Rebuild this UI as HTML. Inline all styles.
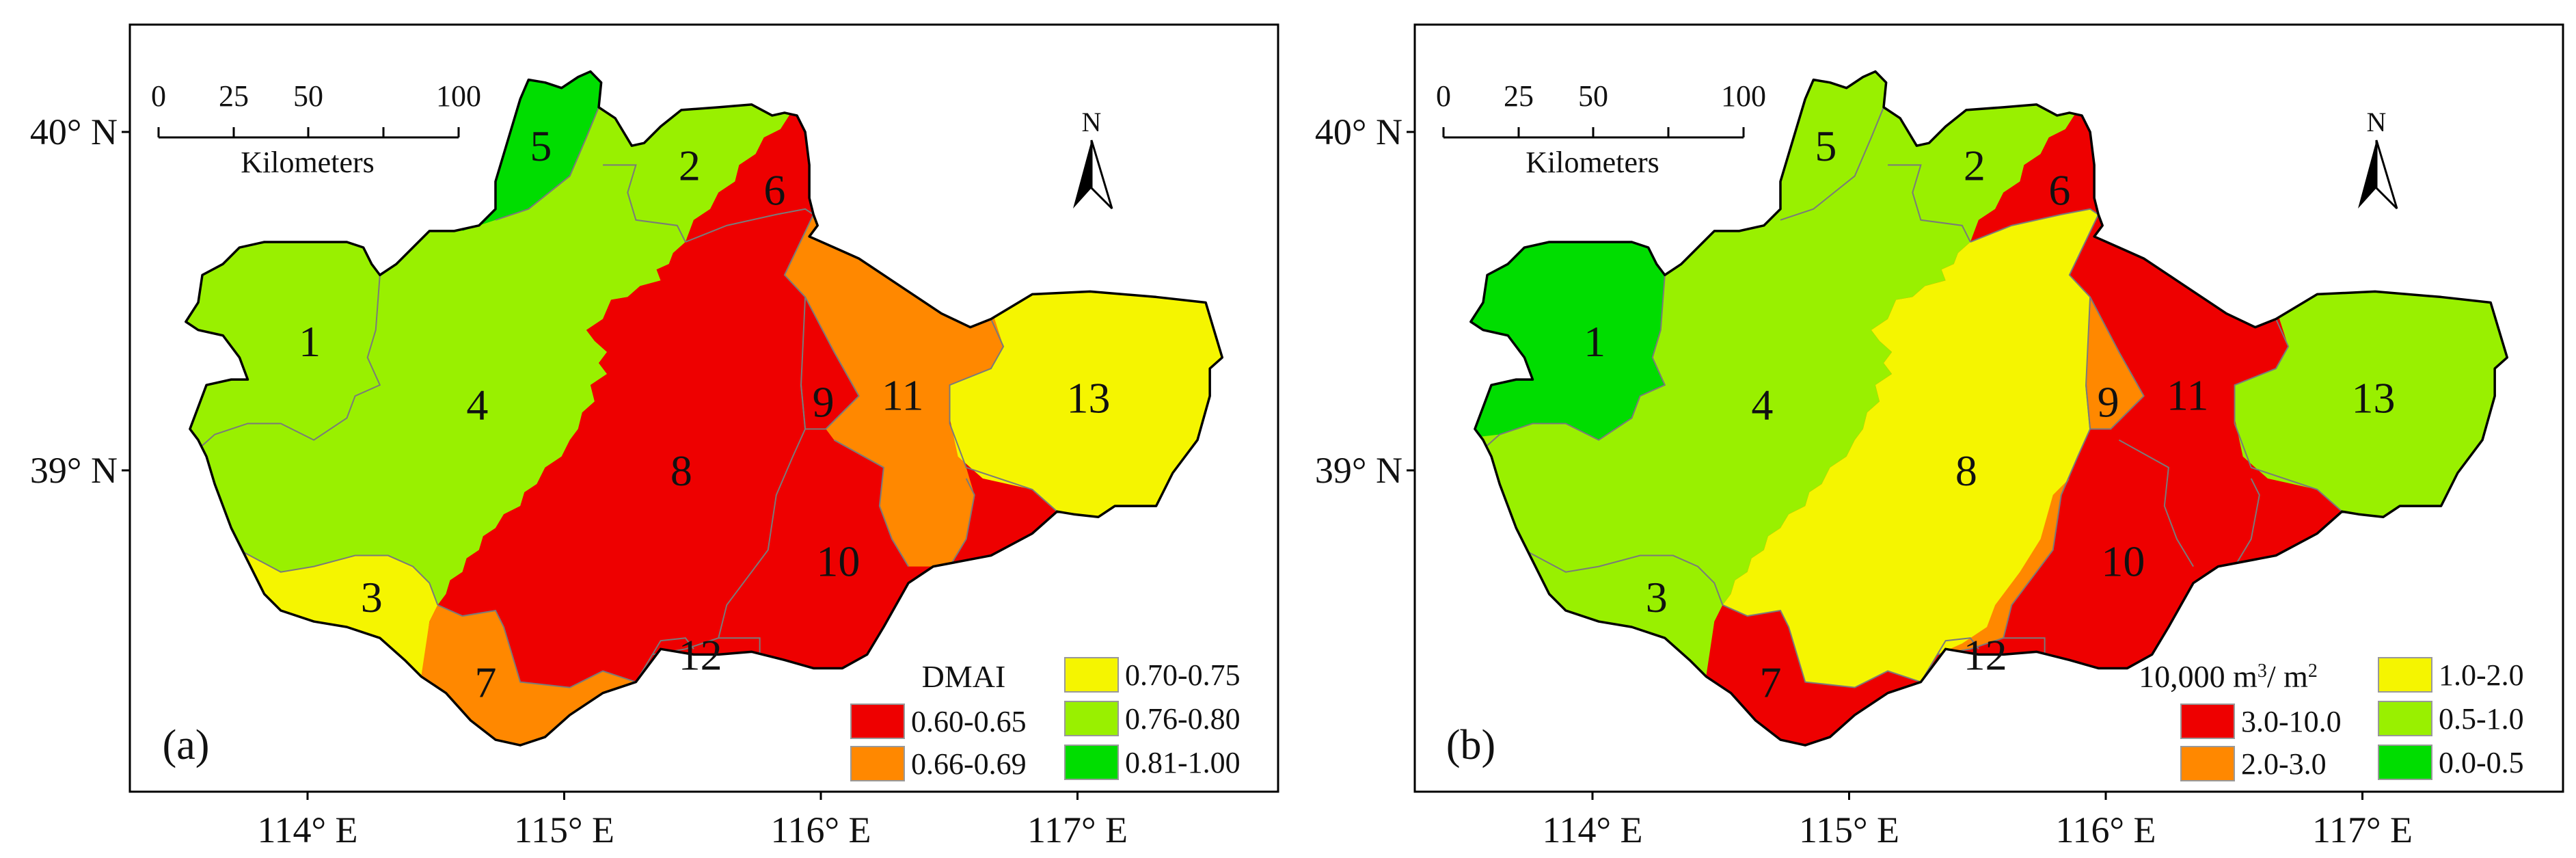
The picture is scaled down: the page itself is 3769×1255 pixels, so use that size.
<!DOCTYPE html>
<html><head><meta charset="utf-8">
<style>
html,body{margin:0;padding:0;background:#fff;}
svg{display:block;}
text{font-family:"Liberation Serif",serif;fill:#111;}
</style></head>
<body>
<svg id="fig" width="3769" height="1255" viewBox="0 0 3769 1255" xmlns="http://www.w3.org/2000/svg">
<defs>
<clipPath id="outerClip"><path id="outerClipPath" d=""/></clipPath>
</defs>
</svg>
<script>
// ---------- data ----------
const regionIds = [1,2,3,4,5,6,7,8,9,10,11,12,13];
const dmaiClass = ['g','g','y','g','G','r','o','r','r','r','o','r','y'];   // panel a
const volClass  = ['G','g','g','g','g','r','r','y','o','r','r','o','g'];   // panel b
const lonTicks = ['114° E','115° E','116° E','117° E'];
const latTicks = ['40° N','39° N'];
const legendA = [['r','0.60-0.65'],['o','0.66-0.69'],['y','0.70-0.75'],['g','0.76-0.80'],['G','0.81-1.00']];
const legendB = [['r','3.0-10.0'],['o','2.0-3.0'],['y','1.0-2.0'],['g','0.5-1.0'],['G','0.0-0.5']];
const scaleLabels = ['0','25','50','100'];

const COL = {r:'#ee0000',o:'#ff8800',y:'#f5f500',g:'#99f000',G:'#00dd00'};
const SX = 1.2083, SY = 0.8045;
const NS = 'http://www.w3.org/2000/svg';
const svg = document.getElementById('fig');

const outer = [[640,145],[660,150],[680,160],[700,140],[715,130],[728,150],[725,195],[745,215],[765,265],[780,260],[800,230],[825,200],[870,195],[910,190],[935,210],[950,205],[965,210],[975,240],[980,300],[980,360],[985,390],[990,410],[980,430],[1010,450],[1040,470],[1080,510],[1110,540],[1140,570],[1175,595],[1200,580],[1250,535],[1320,530],[1400,540],[1460,550],[1470,600],[1480,650],[1465,670],[1465,720],[1450,800],[1420,860],[1400,920],[1350,920],[1330,940],[1300,935],[1280,930],[1250,970],[1200,1010],[1130,1030],[1100,1060],[1070,1140],[1050,1190],[1020,1215],[985,1215],[950,1200],[910,1185],[870,1190],[840,1190],[800,1180],[770,1240],[730,1260],[690,1300],[660,1340],[630,1355],[600,1345],[570,1310],[540,1260],[510,1230],[490,1200],[460,1160],[420,1140],[380,1130],[340,1110],[320,1080],[300,1020],[290,990],[280,960],[270,920],[260,880],[250,830],[240,800],[230,780],[240,740],[250,700],[280,690],[300,690],[290,650],[270,610],[240,600],[225,585],[240,550],[245,500],[270,480],[290,450],[320,440],[350,440],[380,440],[420,440],[440,450],[450,480],[460,500],[480,480],[500,450],[520,420],[550,420],[580,410],[600,380],[600,330],[610,280],[620,230],[630,180]];
const redLine = [[960,200],[945,235],[925,250],[915,280],[895,300],[890,330],[870,350],[860,380],[840,400],[830,440],[815,460],[810,480],[795,490],[800,510],[775,520],[760,540],[740,545],[730,580],[710,600],[720,620],[735,640],[725,660],[735,680],[715,700],[720,730],[705,750],[700,780],[690,800],[680,830],[660,850],[650,880],[635,895],[630,920],[610,935],[600,960],[585,975],[580,1000],[565,1015],[560,1040],[545,1055],[540,1080],[530,1100]];
const line8N = [[830,440],[880,410],[940,390],[975,380],[985,390]];
const line8E = [[985,390],[950,500],[975,540],[970,700],[975,780],[960,830],[940,900],[930,1000],[910,1040],[880,1100],[870,1160],[830,1180],[790,1190]];
const line8S = [[790,1190],[770,1240],[730,1220],[690,1250],[630,1240],[610,1140],[600,1110],[560,1120],[530,1100]];
const shapes = {
  W:[[960,100],...redLine,[200,1100],[200,100]],
  R6:[[1000,100],[1000,390],[985,390],[975,380],[940,390],[880,410],...redLine.slice(0,10).reverse(),[960,100]],
  Y8:[...line8N,...line8E.slice(1),...line8S.slice(1),...redLine.slice(9).reverse()],
  O9:[[975,540],[1010,640],[1040,720],[1000,780],[975,780],[970,700]],
  O11:[[985,390],[1060,400],[1200,560],[1215,630],[1200,670],[1150,700],[1150,770],[1170,850],[1180,900],[1170,980],[1150,1030],[1100,1030],[1080,980],[1065,920],[1070,850],[1010,800],[1000,780],[1040,720],[1010,640],[975,540],[950,500]],
  Y13:[[1200,560],[1250,500],[1550,500],[1550,1000],[1280,930],[1250,890],[1190,870],[1160,830],[1150,760],[1150,700],[1200,670],[1215,630]],
  Y3:[[200,1000],[290,1000],[340,1040],[380,1030],[430,1010],[470,1010],[500,1030],[520,1060],[530,1100],[520,1130],[505,1300],[200,1300]],
  O7:[[530,1100],[560,1120],[600,1110],[610,1140],[630,1240],[690,1250],[730,1220],[770,1240],[780,1400],[500,1400],[510,1230],[520,1130]],
  G5:[[640,100],[715,100],[728,150],[725,195],[710,250],[690,320],[640,380],[600,400],[560,420],[560,100]],
  G1:[[460,440],[460,500],[455,600],[445,650],[460,700],[430,720],[420,760],[380,800],[340,770],[300,770],[260,790],[200,800],[200,440]],
  S12:[[950,870],[940,900],[930,1000],[910,1040],[880,1100],[870,1160],[830,1180],[790,1190],[820,1170],[850,1140],[860,1100],[890,1040],[915,980],[930,900]]
};
const shapeRegion = {W:3,R6:5,Y8:7,O9:8,O11:10,Y13:12,Y3:2,O7:6,G5:4,G1:0,S12:11};
const drawOrder = ['W','G5','G1','Y3','R6','Y8','S12','O9','O11','Y13','O7'];
const labelPos = [[375,620],[835,300],[450,1085],[578,735],[655,265],[938,345],[588,1240],[825,855],[997,730],[1015,1020],[1093,718],[848,1190],[1318,723]];
const borders = [[[730,300],[770,300],[760,350],[770,400],[820,410],[830,440]],[[725,195],[710,250],[690,320],[640,380],[600,400]],
 [[460,500],[455,600],[445,650],[460,700],[430,720],[420,760],[380,800],[340,770],[300,770],[260,790],[245,810]],
 [[290,1000],[340,1040],[380,1030],[430,1010],[470,1010],[500,1030],[520,1060],[530,1100]],
 line8N, line8E, line8S, shapes.O9, [[1010,800],[1070,850],[1065,920],[1080,980],[1100,1030]],[[1170,870],[1180,900],[1170,980],[1150,1030]],
 [[1200,580],[1215,630],[1200,670],[1150,700],[1150,770],[1170,850],[1250,890],[1280,930]],[[790,1190],[800,1165],[830,1160],[840,1180]],[[870,1160],[920,1160],[920,1190]]];

const pts = a => a.map(p=>p[0]+','+p[1]).join(' ');
function el(tag, attrs, parent){ const e=document.createElementNS(NS,tag); for(const k in attrs) e.setAttribute(k,attrs[k]); (parent||svg).appendChild(e); return e; }

document.getElementById('outerClipPath').setAttribute('d','M'+pts(outer).replace(/ /g,' L')+' Z');

const frameL=190, frameT=36, frameR=1870, frameB=1158;
const lonX = i => 450 + i*375.5;
const latY = i => 193 + i*495;

function panel(off, classes, letter, legendTitle, legend, name){
  const g = el('g',{transform:`translate(${off},0)`});
  
  
  const map = el('g',{transform:`scale(${SX},${SY})`},g);
  
  
  const base = el('polygon',{points:pts(outer),fill:COL[classes[9]],stroke:'none'},map);
  
  
  const clip = el('g',{'clip-path':'url(#outerClip)'},map);
  drawOrder.forEach(k=>{
    const ri = shapeRegion[k];
    const p = el('polygon',{points:pts(shapes[k]),fill:COL[classes[ri]],stroke:'none'},clip);
    
    
  });
  const bg = el('g',{'clip-path':'url(#outerClip)'},map);
  borders.forEach(b=>{ el('polyline',{points:pts(b),fill:'none',stroke:'#7a7a7a','stroke-width':2,'vector-effect':'non-scaling-stroke'},bg); });
  const ob = el('polygon',{points:pts(outer),fill:'none',stroke:'#000','stroke-width':3.5,'vector-effect':'non-scaling-stroke','stroke-linejoin':'round'},map);
  
  
  labelPos.forEach((p,i)=>{
    const t = el('text',{x:p[0]*SX,y:p[1]*SY+22,'font-size':64,'text-anchor':'middle'},g);
    t.textContent = regionIds[i];
    
    
  });
  const fr = el('rect',{x:frameL,y:frameT,width:frameR-frameL,height:frameB-frameT,fill:'none',stroke:'#000','stroke-width':3},g);
  
  
  lonTicks.forEach((s,i)=>{
    el('line',{x1:lonX(i),x2:lonX(i),y1:frameB,y2:frameB+12,stroke:'#000','stroke-width':3},g);
    const t = el('text',{x:lonX(i),y:1232,'font-size':54,'text-anchor':'middle'},g);
    t.textContent = s;
    
    
  });
  latTicks.forEach((s,i)=>{
    el('line',{x1:frameL-12,x2:frameL,y1:latY(i),y2:latY(i),stroke:'#000','stroke-width':3},g);
    const t = el('text',{x:frameL-18,y:latY(i)+18,'font-size':54,'text-anchor':'end'},g);
    t.textContent = s;
    
    
  });
  const sb = el('g',{},g);
  
  
  el('line',{x1:232,x2:671,y1:201,y2:201,stroke:'#000','stroke-width':3},sb);
  [232,342,451,561,671].forEach(x=>el('line',{x1:x,x2:x,y1:186,y2:201,stroke:'#000','stroke-width':3},sb));
  [232,342,451,671].forEach((x,i)=>{ const t=el('text',{x:x,y:155,'font-size':44,'text-anchor':'middle'},sb); t.textContent=scaleLabels[i]; });
  const km = el('text',{x:450,y:252,'font-size':44,'text-anchor':'middle'},sb); km.textContent='Kilometers';
  const na = el('g',{},g);
  
  
  const nt = el('text',{x:1597,y:192,'font-size':40,'text-anchor':'middle'},na); nt.textContent='N';
  el('polygon',{points:'1597,205 1570,305 1597,275',fill:'#000'},na);
  el('polygon',{points:'1597,205 1627,305 1597,275',fill:'#fff',stroke:'#000','stroke-width':3},na);
  const pl = el('text',{x:272,y:1110,'font-size':62,'text-anchor':'middle'},g);
  pl.textContent = letter;
  
  
  const lg = el('g',{},g);
  
  
  const L = legendTitle.pos;
  const tt = el('text',{x:L.tx,y:1005,'font-size':46,'text-anchor':'middle'},lg); tt.innerHTML = legendTitle.html;
  const slots = [[L.c1,1030],[L.c1,1092],[L.c2,962],[L.c2,1026],[L.c2,1090]];
  legend.forEach((e,i)=>{
    const [x,y]=slots[i];
    const r = el('rect',{x:x,y:y,width:78,height:50,fill:COL[e[0]],stroke:'#999','stroke-width':2},lg);
    
    
    const t = el('text',{x:x+88,y:y+40,'font-size':44},lg);
    t.textContent = e[1];
    
    
  });
}
panel(0, dmaiClass, '(a)', {html:'DMAI', pos:{tx:1410,c1:1245,c2:1558}}, legendA, 'panel-a-dmai');
panel(1880, volClass, '(b)', {html:'10,000 m<tspan baseline-shift="super" font-size="28">3</tspan>/ m<tspan baseline-shift="super" font-size="28">2</tspan>', pos:{tx:1380,c1:1311,c2:1600}}, legendB, 'panel-b-volume');
</script>
</body></html>
